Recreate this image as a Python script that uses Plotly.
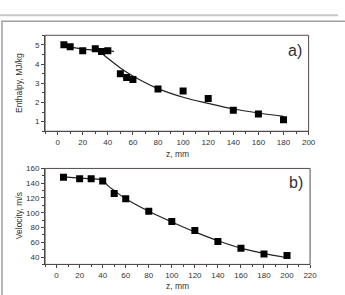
import plotly.graph_objects as go

# Enthalpy (panel a)
z_h = [5, 10, 20, 30, 35, 40, 50, 55, 60, 80, 100, 120, 140, 160, 180]
enthalpy = [5.0, 4.9, 4.7, 4.8, 4.65, 4.7, 3.5, 3.3, 3.2, 2.7, 2.6, 2.2, 1.6, 1.4, 1.1]
fit1_z = [3, 10, 20, 30, 40, 45]
fit1_h = [4.97, 4.88, 4.78, 4.72, 4.68, 4.66]
fit2_z = [35, 40, 50, 60, 80, 100, 120, 140, 160, 180]
fit2_h = [4.58, 4.3, 3.8, 3.38, 2.72, 2.27, 1.95, 1.66, 1.45, 1.28]

# Velocity (panel b)
z_v = [6, 20, 30, 40, 50, 60, 80, 100, 120, 140, 160, 180, 200]
velocity = [148, 146, 146, 143, 126, 119, 102, 88, 76, 61, 52, 44, 42]
fitv_z = [6, 20, 30, 40, 45, 50, 60, 80, 100, 120, 140, 160, 180, 200]
fitv_v = [148.5, 147, 146, 144, 136, 130, 119, 102, 87.5, 74, 62, 52, 45, 39]

W, H = 345, 295
FONT = "Liberation Sans, Arial, sans-serif"
TC = "#333333"

fig = go.Figure()

line_style = dict(color="#222222", width=1.2)
mk = dict(symbol="square", size=7, color="black")

fig.add_trace(go.Scatter(x=fit1_z, y=fit1_h, mode="lines", line=dict(shape="spline", **line_style),
                         xaxis="x", yaxis="y", showlegend=False))
fig.add_trace(go.Scatter(x=fit2_z, y=fit2_h, mode="lines", line=dict(shape="spline", **line_style),
                         xaxis="x", yaxis="y", showlegend=False))
fig.add_trace(go.Scatter(x=z_h, y=enthalpy, mode="markers", marker=mk,
                         xaxis="x", yaxis="y", showlegend=False))

fig.add_trace(go.Scatter(x=fitv_z, y=fitv_v, mode="lines", line=dict(shape="spline", **line_style),
                         xaxis="x2", yaxis="y2", showlegend=False))
fig.add_trace(go.Scatter(x=z_v, y=velocity, mode="markers", marker=mk,
                         xaxis="x2", yaxis="y2", showlegend=False))

def px_x(p):
    return p / W

def px_y(p):
    return 1 - p / H

ax_common = dict(showgrid=False, zeroline=False, showline=True, linecolor="#444444", linewidth=1,
                 ticks="outside", ticklen=3, tickwidth=1, tickcolor="#444444",
                 tickfont=dict(family=FONT, size=8, color=TC), mirror=False)
minor = dict(ticks="outside", ticklen=2, tickcolor="#444444")

fig.update_layout(
    width=W, height=H, margin=dict(l=0, r=0, t=0, b=0),
    paper_bgcolor="white", plot_bgcolor="white",
    xaxis=dict(domain=[px_x(46), px_x(315)], anchor="y", range=[-10, 200], dtick=20,
               minor=dict(dtick=10, **minor), **ax_common),
    yaxis=dict(domain=[px_y(129), px_y(31.7)], anchor="x", range=[0.5, 5.5], dtick=1,
               minor=dict(dtick=0.5, **minor), **ax_common),
    xaxis2=dict(domain=[px_x(46), px_x(316.5)], anchor="y2", range=[-10, 220], dtick=20,
                minor=dict(dtick=10, **minor), **ax_common),
    yaxis2=dict(domain=[px_y(264), px_y(166.7)], anchor="x2", range=[30, 160], dtick=20,
                minor=dict(dtick=10, **minor), **ax_common),
)

shapes = []
# plot frames
for xr, yr in (("x domain", "y domain"), ("x2 domain", "y2 domain")):
    shapes.append(dict(type="rect", xref=xr, yref=yr, x0=0, x1=1, y0=0, y1=1,
                       line=dict(color="#5a4a4a", width=1), layer="above"))
# outer page decorations
shapes.append(dict(type="line", xref="paper", yref="paper", x0=0, x1=1, y0=px_y(11.5), y1=px_y(11.5),
                   line=dict(color="#c8c8c8", width=2)))
shapes.append(dict(type="rect", xref="paper", yref="paper", x0=px_x(2), x1=px_x(360), y0=px_y(320), y1=px_y(17.5),
                   line=dict(color="#a0a0a0", width=1.5)))
fig.update_layout(shapes=shapes)

ann = []
def text(x, y, s, size, angle=0):
    ann.append(dict(x=px_x(x), y=px_y(y), xref="paper", yref="paper", text=s, showarrow=False,
                    textangle=angle, font=dict(family=FONT, size=size, color=TC),
                    xanchor="center", yanchor="middle"))

text(19.5, 80, "Enthalpy, MJ/kg", 8.5, -90)
text(19.5, 215, "Velocity, m/s", 8.5, -90)
text(181, 152, "z, mm", 8.5)
text(181, 286, "z, mm", 8.5)
text(301, 47, "a)", 16)
text(302, 181, "b)", 16)
fig.update_layout(annotations=ann)

fig.write_html("out.html")
